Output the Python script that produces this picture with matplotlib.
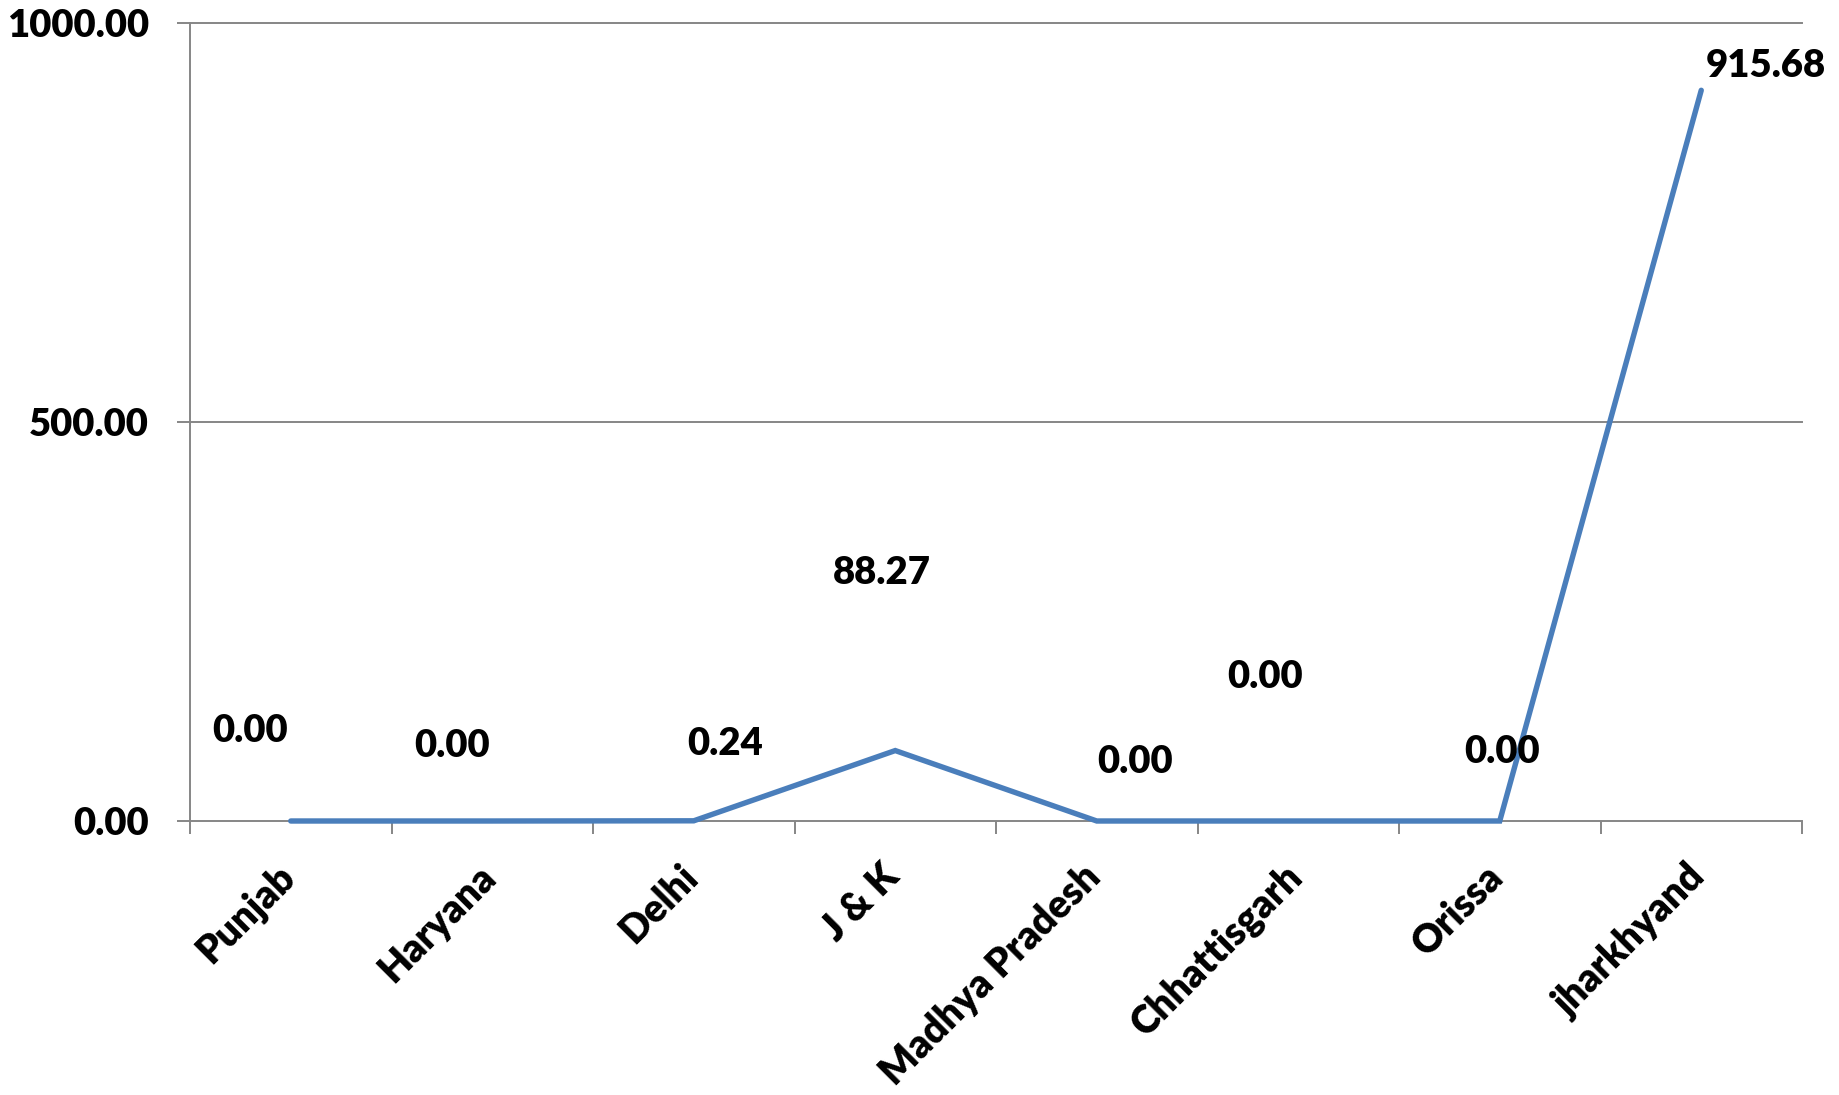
import matplotlib
matplotlib.use("Agg")
import matplotlib.pyplot as plt
from matplotlib.ticker import FixedLocator, FuncFormatter
import matplotlib.transforms as mtransforms

# ---- data ----
states = ["Punjab", "Haryana", "Delhi", "J & K", "Madhya Pradesh",
          "Chhattisgarh", "Orissa", "jharkhyand"]
values = [0.00, 0.00, 0.24, 88.27, 0.00, 0.00, 0.00, 915.68]
y_ticks = [0, 500, 1000]

# ---- layout/style ----
FONT = "Lato"
WEIGHT = "heavy"
FS = 27.5
FS_X = 28
GRAY = "#868686"
BLUE = "#4A7EBB"
# data-label offsets in pixels (dx, dy of baseline-centre relative to point)
label_offsets = [(-41, 79), (-40, 64), (31, 66), (-13, 167),
                 (38, 48), (-33, 133), (2, 58), (65, 13)]

W, H = 1839, 1095
fig = plt.figure(figsize=(W / 100, H / 100), dpi=100)
ax = fig.add_axes([190 / W, 1 - 821 / H, (1802 - 190) / W, (821 - 23) / H])

x = [i + 0.5 for i in range(len(states))]
ax.plot(x, values, color=BLUE, lw=3.9, solid_capstyle="round",
        solid_joinstyle="miter", zorder=3, clip_on=False)

ax.set_xlim(0, len(states))
ax.set_ylim(0, 1000)

# spines
for s in ["top", "right"]:
    ax.spines[s].set_visible(False)
for s in ["left", "bottom"]:
    ax.spines[s].set_color(GRAY)
    ax.spines[s].set_linewidth(1.4)

# gridlines
for yv in y_ticks[1:]:
    ax.axhline(yv, color=GRAY, lw=1.4, zorder=1, clip_on=False)

# y ticks
ax.yaxis.set_major_locator(FixedLocator(y_ticks))
ax.yaxis.set_major_formatter(FuncFormatter(lambda v, p: f"{v:.2f}"))
ax.tick_params(axis="y", length=9.4, width=1.4, color=GRAY, pad=20,
               labelsize=FS)
for t in ax.get_yticklabels():
    t.set_fontfamily(FONT)
    t.set_fontweight(WEIGHT)

# x ticks at category boundaries, labels at centres
ax.xaxis.set_major_locator(FixedLocator(range(len(states) + 1)))
ax.xaxis.set_major_formatter(FuncFormatter(lambda v, p: ""))
ax.tick_params(axis="x", which="major", length=9.4, width=1.4, color=GRAY)
ax.set_xticks(x, minor=True)
ax.set_xticklabels(states, minor=True)
ax.tick_params(axis="x", which="minor", length=0, pad=36, labelsize=FS_X)
offset = mtransforms.ScaledTranslation(-2 / 100, 0, fig.dpi_scale_trans)
for t in ax.get_xticklabels(minor=True):
    t.set_fontfamily(FONT)
    t.set_fontweight(WEIGHT)
    t.set_rotation(45)
    t.set_rotation_mode("anchor")
    t.set_ha("right")
    t.set_va("center")
    t.set_transform(t.get_transform() + offset)

# data labels
for xi, v, (dx, dy) in zip(x, values, label_offsets):
    ax.annotate(f"{v:.2f}", (xi, v), xytext=(dx, dy),
                textcoords="offset pixels", ha="center", va="baseline",
                fontsize=FS, fontweight=WEIGHT, fontfamily=FONT,
                color="black", annotation_clip=False)

fig.savefig("out.png", dpi=100, facecolor="white")
